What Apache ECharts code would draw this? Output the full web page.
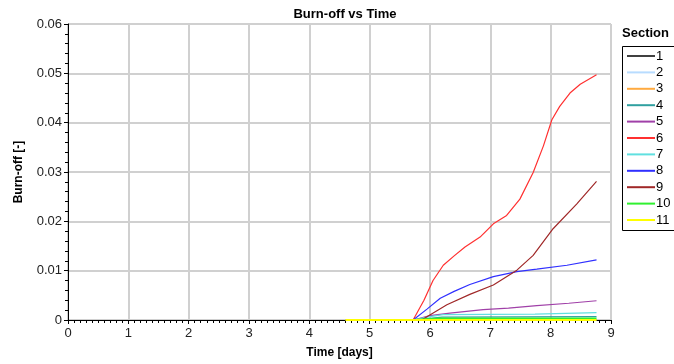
<!DOCTYPE html>
<html>
<head>
<meta charset="utf-8">
<script src="https://cdn.jsdelivr.net/npm/echarts@6/dist/echarts.min.js"></script>
<style>
html,body{margin:0;padding:0;background:#fff;}
#chart{width:674px;height:364px;}
</style>
</head>
<body>
<div id="chart"></div>
<script>
// section names and colours
let sectionNames = ['1','2','3','4','5','6','7','8','9','10','11'];
let sectionColors = ['#404040','#b8dcff','#ffaa40','#30a0a0','#a040a8','#ff3030','#60e0e0','#3030ff','#a02828','#30f030','#ffff00'];

// [time, burn-off]
let sec1 = [[4.6,0],[8.76,0]];
let sec2 = [[4.6,0],[8.76,0]];
let sec3 = [[4.6,0],[8.76,0]];
let sec4 = [[5.72,0],[6.2,0.0006],[8.76,0.0007]];
let sec5 = [[5.72,0],[6.0,0.0009],[6.33,0.0014],[6.88,0.0021],[7.3,0.0024],[7.77,0.0029],[8.3,0.0034],[8.76,0.0039]];
let sec6 = [[5.72,0],[5.9,0.004],[6.05,0.008],[6.22,0.0111],[6.4,0.013],[6.58,0.0148],[6.83,0.0168],[7.05,0.0195],[7.27,0.0212],[7.49,0.0245],[7.71,0.0299],[7.88,0.0353],[8.02,0.0406],[8.15,0.0433],[8.32,0.046],[8.49,0.0478],[8.76,0.0497]];
let sec7 = [[5.72,0],[6.0,0.0007],[6.22,0.0011],[7.74,0.0012],[7.76,0.0015],[8.76,0.0015]];
let sec8 = [[5.72,0],[5.95,0.0022],[6.17,0.0044],[6.4,0.0058],[6.66,0.0072],[7.05,0.0088],[7.44,0.0098],[7.77,0.0103],[8.27,0.0111],[8.76,0.0122]];
let sec9 = [[5.86,0],[6.28,0.0031],[6.66,0.0052],[7.05,0.0071],[7.44,0.0101],[7.71,0.0131],[8.04,0.0185],[8.43,0.0235],[8.76,0.0281]];
let sec10 = [[5.72,0],[6.17,0.0003],[8.76,0.0003]];
let sec11 = [[4.6,0],[8.76,0]];
let sectionData = [sec1,sec2,sec3,sec4,sec5,sec6,sec7,sec8,sec9,sec10,sec11];

let xTicks = [0,9,1];      // min, max, interval
let yTicks = [0,0.06,0.01];

let font = 'Liberation Sans, Arial, sans-serif';

let seriesList = [];
sectionNames.forEach(function (n, i) {
    seriesList.push({
        name: n,
        type: 'line',
        data: sectionData[i],
        showSymbol: false,
        animation: false,
        lineStyle: {color: sectionColors[i], width: (i >= 9 ? 2 : 1.2)},
        itemStyle: {color: sectionColors[i]}
    });
});

let chart = echarts.init(document.getElementById('chart'));
chart.setOption({
    backgroundColor: '#fff',
    animation: false,
    title: {
        text: 'Burn-off vs Time',
        left: 340, top: 3, textAlign: 'center',
        textStyle: {fontFamily: font, fontSize: 13, fontWeight: 'bold', color: '#000'}
    },
    grid: {left: 68, right: 63, top: 24, bottom: 42},
    xAxis: {
        type: 'value',
        min: xTicks[0], max: xTicks[1], interval: xTicks[2],
        name: 'Time [days]', nameLocation: 'middle', nameGap: 27,
        nameTextStyle: {fontFamily: font, fontSize: 12, fontWeight: 'bold', color: '#000'},
        axisLine: {lineStyle: {color: '#000', width: 1}},
        axisTick: {inside: false, length: 4, lineStyle: {color: '#000'}},
        minorTick: {show: true, splitNumber: 10, length: 3, lineStyle: {color: '#000'}},
        axisLabel: {fontFamily: font, fontSize: 13, color: '#222', margin: 7},
        splitLine: {show: true, lineStyle: {color: '#d0d0d0', width: 2}}
    },
    yAxis: {
        type: 'value',
        min: yTicks[0], max: yTicks[1], interval: yTicks[2],
        name: 'Burn-off [-]', nameLocation: 'middle', nameGap: 43,
        nameTextStyle: {fontFamily: font, fontSize: 12, fontWeight: 'bold', color: '#000'},
        axisLine: {show: true, lineStyle: {color: '#000', width: 1}},
        axisTick: {show: true, length: 4, lineStyle: {color: '#000'}},
        minorTick: {show: true, splitNumber: 5, length: 3, lineStyle: {color: '#000'}},
        axisLabel: {fontFamily: font, fontSize: 13, color: '#222', margin: 6},
        splitLine: {show: true, lineStyle: {color: '#d0d0d0', width: 2}}
    },
    legend: {
        orient: 'vertical',
        left: 622, top: 44,
        icon: 'rect',
        itemWidth: 28, itemHeight: 2,
        itemGap: 2.4,
        data: sectionNames,
        textStyle: {fontFamily: font, fontSize: 13, color: '#000', lineHeight: 14, padding: [0,0,0,-4]},
        selectedMode: false
    },
    graphic: [
        {type: 'text', left: 622, top: 27,
         style: {text: 'Section', font: 'bold 13px ' + font, fill: '#000'}},
        {type: 'rect', shape: {x: 622.5, y: 46.5, width: 60, height: 184},
         style: {fill: 'none', stroke: '#000', lineWidth: 1}}
    ],
    series: seriesList
});
</script>
</body>
</html>
